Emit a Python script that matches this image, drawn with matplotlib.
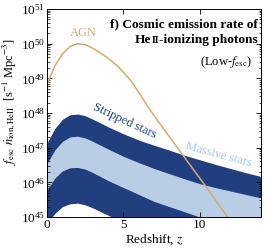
import numpy as np
import matplotlib
matplotlib.use("Agg")
import matplotlib.pyplot as plt
from matplotlib.ticker import FixedLocator, MultipleLocator, NullFormatter, LogFormatterMathtext
from matplotlib.offsetbox import TextArea, HPacker, AnchoredOffsetbox

plt.rcParams['font.family'] = ['Liberation Serif', 'DejaVu Serif']
plt.rcParams['mathtext.fontset'] = 'stix'

# redshift grid for the stellar bands (log10 of rate)
z_stars = [0, 0.5, 1, 1.5, 2, 2.5, 3, 4, 5, 6, 7, 8, 9, 10, 11, 12, 13, 14]
stripped_hi = [47.14, 47.55, 47.82, 47.95, 47.97, 47.92, 47.82, 47.60, 47.40,
               47.22, 47.07, 46.93, 46.78, 46.65, 46.52, 46.40, 46.28, 46.17]
massive_hi = [46.55, 46.93, 47.18, 47.31, 47.33, 47.28, 47.18, 46.96, 46.75,
              46.57, 46.40, 46.25, 46.10, 45.96, 45.85, 45.75, 45.65, 45.55]
massive_lo = [45.77, 46.12, 46.33, 46.42, 46.43, 46.38, 46.28, 46.05, 45.85,
              45.65, 45.45, 45.30, 45.15, 45.00, 44.87, 44.75, 44.63, 44.52]
stripped_lo = [44.80, 45.10, 45.30, 45.38, 45.40, 45.35, 45.26, 45.05, 44.85,
               44.65, 44.45, 44.28, 44.12, 43.98, 43.85, 43.72, 43.60, 43.48]

z_agn = [0, 0.5, 1, 1.5, 2, 2.5, 3, 3.5, 4, 4.5, 5, 5.5, 6, 6.5, 7, 7.5, 8,
         8.5, 9, 9.5, 10, 10.5, 11, 11.5, 12, 12.5, 13]
agn = [48.85, 49.35, 49.70, 49.92, 50.00, 49.97, 49.87, 49.73, 49.58, 49.40,
       49.18, 48.92, 48.60, 48.25, 47.92, 47.62, 47.32, 47.02, 46.72, 46.42,
       46.12, 45.82, 45.50, 45.20, 44.88, 44.55, 44.20]

y_decades = [45, 46, 47, 48, 49, 50, 51]

dark = '#213f7f'
light = '#b9cde5'
tan = '#d3aa72'

zf = np.linspace(0, 14, 300)
def smooth(zs, vals, grid):
    return 10 ** np.interp(grid, zs, vals)

fig = plt.figure(figsize=(2.66, 2.5), dpi=100)
ax = fig.add_axes([0.177, 0.132, 0.804, 0.832])

ax.fill_between(zf, smooth(z_stars, stripped_lo, zf), smooth(z_stars, stripped_hi, zf),
                color=dark, lw=0)
ax.fill_between(zf, smooth(z_stars, massive_lo, zf), smooth(z_stars, massive_hi, zf),
                color=light, lw=0)
za = np.linspace(0, 13, 300)
ax.plot(za, smooth(z_agn, agn, za), color=tan, lw=1.1)

ax.set_yscale('log')
ax.set_xlim(0, 14)
ax.set_ylim(1e45, 1e51)
ax.xaxis.set_major_locator(MultipleLocator(5))
ax.yaxis.set_major_locator(FixedLocator([10.0 ** d for d in y_decades]))
ax.yaxis.set_major_formatter(LogFormatterMathtext())
minors = [m * 10.0 ** d for d in y_decades[:-1] for m in range(2, 10)]
ax.yaxis.set_minor_locator(FixedLocator(minors))
ax.yaxis.set_minor_formatter(NullFormatter())
ax.tick_params(which='both', direction='in', top=True, right=True, labelsize=9.5, pad=1.5)
ax.tick_params(which='major', length=3.5, width=0.6)
ax.tick_params(which='minor', length=1.8, width=0.5)
for s in ax.spines.values():
    s.set_linewidth(0.7)

ax.set_xlabel('Redshift, $z$', fontsize=9.5, labelpad=1)
ax.set_ylabel(r'$f_{\rm esc}\ \dot{n}_{\rm ion,HeII}$  [s$^{-1}$ Mpc$^{-3}$]',
              fontsize=9)
ax.yaxis.set_label_coords(-0.135, 0.555)

ax.text(2.35, 10 ** 50.3, 'AGN', color=tan, fontsize=9, ha='center', va='center')
ax.text(5.1, 10 ** 47.76, 'Stripped stars', color=dark, fontsize=9, ha='center',
        va='center', rotation=-25)
ax.text(11.2, 10 ** 46.8, 'Massive stars', color='#a6c8ee', fontsize=9, ha='center',
        va='center', rotation=-15)

ax.text(0.985, 0.925, 'f) Cosmic emission rate of', transform=ax.transAxes,
        fontsize=9.6, fontweight='bold', ha='right', va='center')
bold = dict(fontweight='bold', fontsize=9.6)
line2 = HPacker(children=[TextArea('He', textprops=bold),
                          TextArea('II', textprops=dict(fontweight='bold', fontsize=7.2)),
                          TextArea('-ionizing photons', textprops=bold)],
                align='baseline', pad=0, sep=0)
ax.add_artist(AnchoredOffsetbox(loc='center right', child=line2, pad=0, borderpad=0,
                                frameon=False, bbox_to_anchor=(0.985, 0.85),
                                bbox_transform=ax.transAxes))
ax.text(0.958, 0.745, r'(Low-$f_{\rm esc}$)', transform=ax.transAxes,
        fontsize=9, ha='right', va='center')

fig.savefig('out.png', dpi=100)
